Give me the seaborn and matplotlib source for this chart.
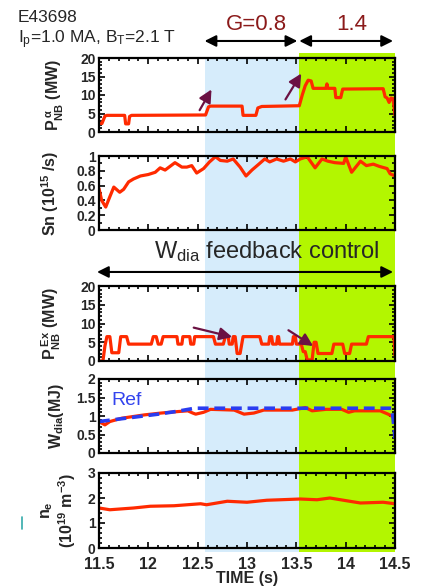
import numpy as np
import pandas as pd
import matplotlib
matplotlib.use("Agg")
import matplotlib.pyplot as plt
from matplotlib.ticker import MultipleLocator, FuncFormatter
from matplotlib.lines import Line2D
import seaborn as sns

sns.set_style("ticks")
plt.rcParams['font.family'] = ['Liberation Sans', 'DejaVu Sans']
plt.rcParams['mathtext.fontset'] = 'custom'
plt.rcParams['mathtext.rm'] = 'Liberation Sans'
plt.rcParams['mathtext.it'] = 'Liberation Sans:italic'
plt.rcParams['mathtext.bf'] = 'Liberation Sans:bold'
plt.rcParams['mathtext.default'] = 'regular'

# ---- data ----
pnb_alpha_t = [11.50, 11.53, 11.56, 11.58, 11.76, 11.77, 11.80, 11.81, 11.83, 12.58, 12.61, 12.63,
               12.95, 12.96, 13.09, 13.11, 13.15, 13.53, 13.56, 13.59, 13.62, 13.65, 13.67, 13.80,
               13.81, 13.82, 13.89, 13.90, 13.95, 13.97, 14.38, 14.40, 14.42, 14.44, 14.46, 14.48, 14.50]
pnb_alpha_v = [2.3, 2.3, 4.3, 4.5, 4.5, 2.2, 2.2, 4.2, 4.5, 4.6, 6.8, 7.0,
               7.0, 4.5, 4.5, 6.5, 6.9, 7.1, 10.0, 12.5, 14.0, 13.8, 11.8, 11.8,
               13.0, 11.8, 11.8, 9.3, 9.3, 11.6, 11.7, 9.5, 9.2, 8.0, 9.2, 9.0, 4.5]

sn_t = [11.50, 11.527, 11.568, 11.61, 11.65, 11.71, 11.75, 11.80, 11.85, 11.92, 12.00, 12.07,
        12.12, 12.17, 12.27, 12.34, 12.39, 12.44, 12.49, 12.56, 12.62, 12.68, 12.73, 12.80,
        12.86, 12.93, 12.99, 13.05, 13.12, 13.18, 13.23, 13.30, 13.37, 13.44, 13.49, 13.54,
        13.61, 13.69, 13.76, 13.82, 13.89, 13.98, 14.00, 14.06, 14.15, 14.21, 14.28, 14.34,
        14.42, 14.45, 14.50]
sn_v = [0.56, 0.40, 0.31, 0.45, 0.58, 0.51, 0.55, 0.65, 0.69, 0.73, 0.75, 0.78,
        0.84, 0.81, 0.91, 0.85, 0.85, 0.87, 0.77, 0.83, 0.92, 0.99, 0.94, 0.93,
        0.96, 0.85, 0.73, 0.81, 0.89, 0.96, 0.92, 0.96, 0.93, 0.96, 0.92, 0.96,
        0.99, 0.84, 0.96, 0.93, 0.91, 0.90, 0.99, 0.78, 0.93, 0.87, 0.89, 0.86,
        0.83, 0.76, 0.73]

pnb_ex_t = [11.50, 11.54, 11.56, 11.58, 11.61, 11.63, 11.70, 11.72, 11.78, 11.80, 12.03, 12.05,
            12.08, 12.10, 12.13, 12.15, 12.29, 12.30, 12.34, 12.35, 12.42, 12.43, 12.46, 12.47,
            12.66, 12.68, 12.76, 12.78, 12.81, 12.82, 12.85, 12.86, 12.88, 12.90, 12.93, 12.96,
            13.13, 13.15, 13.22, 13.23, 13.25, 13.26, 13.30, 13.31, 13.32, 13.33, 13.46, 13.47,
            13.49, 13.50, 13.55, 13.57, 13.59, 13.61, 13.66, 13.68, 13.70, 13.72, 13.86, 13.88,
            13.97, 13.99, 14.04, 14.06, 14.21, 14.23, 14.49, 14.50]
pnb_ex_v = [0.0, 0.0, 4.0, 6.5, 6.5, 2.2, 2.2, 6.5, 6.5, 4.5, 4.5, 6.5,
            6.5, 4.5, 4.5, 6.5, 6.5, 4.5, 4.5, 6.5, 6.5, 4.5, 4.5, 6.5,
            6.5, 4.5, 4.5, 6.5, 6.5, 4.5, 4.5, 6.5, 6.5, 2.0, 2.0, 6.5,
            6.5, 4.5, 4.5, 6.5, 6.5, 4.5, 4.5, 6.5, 6.5, 4.5, 4.5, 6.5,
            6.5, 4.5, 4.5, 2.5, 2.5, 0.3, 0.3, 5.0, 5.0, 2.0, 2.0, 4.5,
            4.5, 2.0, 2.0, 4.5, 4.5, 6.5, 6.5, 1.5]

wdia_t = [11.50, 11.56, 11.61, 11.73, 11.96, 12.13, 12.30, 12.40, 12.45, 12.48, 12.56, 12.63,
          12.87, 12.97, 13.07, 13.17, 13.46, 13.56, 13.59, 13.66, 13.80, 13.96, 14.03, 14.09,
          14.35, 14.43, 14.50]
wdia_v = [0.85, 0.76, 0.85, 0.94, 1.03, 1.08, 1.12, 1.14, 1.08, 1.05, 1.10, 1.18,
          1.16, 1.05, 1.08, 1.16, 1.16, 1.21, 1.23, 1.14, 1.18, 1.18, 1.10, 1.14,
          1.14, 1.05, 0.95]

wref_t = [11.50, 11.80, 12.10, 12.30, 12.47, 14.47, 14.50]
wref_v = [0.85, 0.95, 1.05, 1.13, 1.21, 1.21, 0.40]

ne_t = [11.50, 11.61, 11.85, 12.02, 12.26, 12.53, 12.59, 12.80, 13.00, 13.20, 13.34, 13.54,
        13.71, 13.84, 14.04, 14.15, 14.38, 14.50]
ne_v = [1.60, 1.53, 1.60, 1.67, 1.69, 1.77, 1.73, 1.87, 1.83, 1.91, 1.93, 1.96,
        1.93, 2.00, 1.87, 1.80, 1.83, 1.77]

phase_edges = [12.57, 13.53, 14.5]
phase_labels = ['G=0.8', '1.4']

RED = '#ff2a00'
BLUE_DASH = '#2a3cf0'
ARROW_C = '#6b1143'

fig = plt.figure(figsize=(4.22, 5.87), dpi=100)
W, H = 422.0, 587.0
L, R = 99, 395

def rect(top, bot):
    return [L / W, 1 - bot / H, (R - L) / W, (bot - top) / H]

# shaded phase background, spans the whole stack
bg = fig.add_axes(rect(53, 552), zorder=-5)
bg.set_xlim(11.5, 14.5)
bg.set_ylim(0, 1)
bg.axvspan(phase_edges[0], phase_edges[1], ymax=0.99, color='#d6ecfb', lw=0)
bg.axvspan(phase_edges[1], phase_edges[2], color='#b3f600', lw=0)
bg.axis('off')

panels = [(58, 132), (156, 230), (286, 361), (379, 453), (473, 548)]
axes = [fig.add_axes(rect(t, b)) for t, b in panels]

fmt = FuncFormatter(lambda v, p: '%g' % v)
yspec = [(0, 20, 5, 1), (0, 1, 0.2, 0.1), (0, 20, 5, 1), (0, 2, 0.5, 0.1), (0, 3, 1, 0.2)]
for ax, (lo, hi, mj, mn) in zip(axes, yspec):
    ax.set_facecolor('none')
    ax.set_xlim(11.5, 14.5)
    ax.set_ylim(lo, hi)
    ax.xaxis.set_major_locator(MultipleLocator(0.5))
    ax.xaxis.set_minor_locator(MultipleLocator(0.1))
    ax.yaxis.set_major_locator(MultipleLocator(mj))
    ax.yaxis.set_minor_locator(MultipleLocator(mn))
    ax.yaxis.set_major_formatter(fmt)
    ax.xaxis.set_major_formatter(fmt)
    ax.tick_params(which='both', direction='in', top=True, right=True, width=1.2, color='black')
    ax.tick_params(which='major', length=4.5)
    ax.tick_params(which='minor', length=2.5)
    ax.tick_params(axis='y', labelsize=10, pad=2.5)
    ax.tick_params(axis='x', labelsize=11.5, pad=6.5)
    for lab in ax.get_yticklabels() + ax.get_xticklabels():
        lab.set_fontweight('bold')
    for s in ax.spines.values():
        s.set_linewidth(1.6)
        s.set_color('black')
    if ax is not axes[-1]:
        ax.tick_params(axis='x', labelbottom=False)

lw = 2.3
sns.lineplot(x=pnb_alpha_t, y=pnb_alpha_v, ax=axes[0], color=RED, lw=lw, estimator=None, sort=False)
sns.lineplot(x=sn_t, y=sn_v, ax=axes[1], color=RED, lw=lw, estimator=None, sort=False)
sns.lineplot(x=pnb_ex_t, y=pnb_ex_v, ax=axes[2], color=RED, lw=lw, estimator=None, sort=False)
sns.lineplot(x=wdia_t, y=wdia_v, ax=axes[3], color=RED, lw=lw, estimator=None, sort=False)
sns.lineplot(x=wref_t, y=wref_v, ax=axes[3], color=BLUE_DASH, lw=2.6, estimator=None, sort=False,
             dashes=False).lines[-1].set_dashes((3, 1.6))
sns.lineplot(x=ne_t, y=ne_v, ax=axes[4], color=RED, lw=lw, estimator=None, sort=False)

ylabs = [r'$P_{NB}^{\ \alpha}$ (MW)', r'Sn (10$^{15}$ /s)', r'$P_{NB}^{\ Ex}$ (MW)',
         r'$W_{dia}$(MJ)', '$n_e$\n(10$^{19}$ m$^{-3}$)']
labx = [-0.11, -0.13, -0.12, -0.11, -0.07]
for ax, lab, x in zip(axes, ylabs, labx):
    ax.set_ylabel(lab, fontsize=11.5, fontweight='bold', linespacing=1.1)
    ax.yaxis.set_label_coords(x, 0.5)
    ax.set_xlabel('')
axes[-1].set_xlabel('TIME (s)', fontsize=11.5, fontweight='bold', labelpad=-1)
fig.add_artist(Line2D([22 / W, 22 / W], [1 - 529 / H, 1 - 517 / H], color='#33aaaa', lw=1.2))

# phase arrows above the first panel
a0 = axes[0]
tr = a0.get_xaxis_transform()
arr = dict(arrowstyle='<|-|>', color='black', lw=1.5, mutation_scale=17, shrinkA=0, shrinkB=0)
for (x0, x1), lab in zip(zip(phase_edges[:-1], phase_edges[1:]), phase_labels):
    a0.annotate('', xy=(x1 - 0.02, 1.23), xytext=(x0, 1.23), xycoords=tr, textcoords=tr,
                arrowprops=arr, annotation_clip=False)
    a0.text((x0 + x1) / 2 + 0.05, 1.38, lab, transform=tr, ha='center', va='baseline',
            fontsize=16, color='#8b1a1a')

# feedback control arrow
a2 = axes[2]
tr2 = a2.get_xaxis_transform()
a2.annotate('', xy=(14.48, 1.187), xytext=(11.48, 1.187), xycoords=tr2, textcoords=tr2,
            arrowprops=arr, annotation_clip=False)
a2.text(13.2, 1.373, r'W$_{dia}$ feedback control', transform=tr2, ha='center', va='baseline',
        fontsize=17)

# purple pointers
parr = dict(arrowstyle='-|>', color=ARROW_C, lw=1.6, mutation_scale=19, shrinkA=0, shrinkB=0)
a0.annotate('', xy=(12.64, 11.5), xytext=(12.52, 5.9), arrowprops=parr)
a0.annotate('', xy=(13.55, 15.8), xytext=(13.39, 8.8), arrowprops=parr)
a2.annotate('', xy=(12.85, 6.4), xytext=(12.46, 8.9), arrowprops=parr)
a2.annotate('', xy=(13.67, 4.0), xytext=(13.42, 8.2), arrowprops=parr)

axes[3].text(11.63, 1.31, 'Ref', color='#3344ee', fontsize=14, va='baseline')

fig.text(18 / W, 1 - 22 / H, 'E43698', fontsize=12.5, va='baseline')
fig.text(18 / W, 1 - 43 / H, r'I$_p$=1.0 MA, B$_T$=2.1 T', fontsize=12.5, va='baseline')

fig.savefig('out.png', dpi=100)
